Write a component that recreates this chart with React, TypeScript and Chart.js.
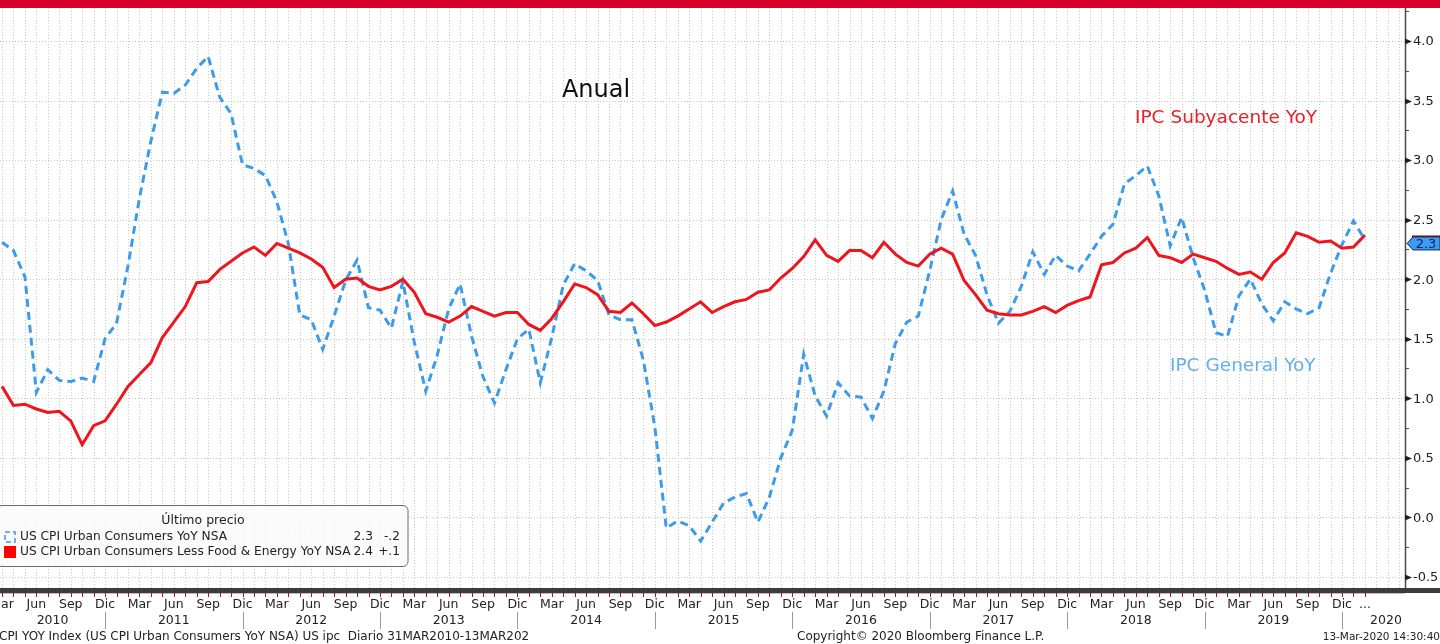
import React, { useEffect, useRef } from 'react';
import { Chart, registerables } from 'chart.js';

Chart.register(...registerables);

// ---- data ----
const START_YEAR = 2010;
const START_MONTH = 2; // March (0-based)
const MONTH_NAMES = ['Ene', 'Feb', 'Mar', 'Abr', 'May', 'Jun', 'Jul', 'Ago', 'Sep', 'Oct', 'Nov', 'Dic'];
const QUARTER_MONTHS = [2, 5, 8, 11];
const YEARS = [2010, 2011, 2012, 2013, 2014, 2015, 2016, 2017, 2018, 2019, 2020];
const Y_TICKS = [-0.5, 0, 0.5, 1.0, 1.5, 2.0, 2.5, 3.0, 3.5, 4.0];

// US CPI Urban Consumers YoY NSA, Mar 2010 .. Feb 2020
const CPI_YOY = [
  2.31, 2.24, 2.02, 1.05, 1.24, 1.15, 1.14, 1.17, 1.14, 1.50,
  1.63, 2.11, 2.68, 3.16, 3.57, 3.56, 3.63, 3.77, 3.87, 3.53, 3.39, 2.96,
  2.93, 2.87, 2.65, 2.30, 1.70, 1.66, 1.41, 1.69, 1.99, 2.16, 1.76, 1.74,
  1.59, 1.98, 1.47, 1.06, 1.36, 1.75, 1.96, 1.52, 1.18, 0.96, 1.24, 1.50,
  1.58, 1.13, 1.51, 1.95, 2.13, 2.07, 1.99, 1.70, 1.66, 1.66, 1.32, 0.76,
  -0.09, -0.03, -0.07, -0.20, -0.04, 0.12, 0.17, 0.20, -0.04, 0.17, 0.50, 0.73,
  1.37, 1.02, 0.85, 1.13, 1.02, 1.01, 0.83, 1.06, 1.46, 1.64, 1.69, 2.07,
  2.50, 2.74, 2.38, 2.20, 1.87, 1.63, 1.73, 1.94, 2.23, 2.04, 2.20, 2.11,
  2.07, 2.21, 2.36, 2.46, 2.80, 2.87, 2.95, 2.70, 2.28, 2.52, 2.18, 1.91,
  1.55, 1.52, 1.86, 2.00, 1.79, 1.65, 1.81, 1.75, 1.71, 1.76, 2.05, 2.29,
  2.49, 2.33,
];

// US CPI Urban Consumers Less Food & Energy YoY NSA, Mar 2010 .. Feb 2020
const CORE_YOY = [
  1.10, 0.94, 0.95, 0.91, 0.88, 0.89, 0.81, 0.61, 0.77, 0.81,
  0.95, 1.10, 1.20, 1.30, 1.51, 1.64, 1.77, 1.97, 1.98, 2.08, 2.15, 2.22,
  2.27, 2.20, 2.30, 2.26, 2.22, 2.17, 2.10, 1.93, 2.00, 2.01, 1.94, 1.91,
  1.94, 2.00, 1.89, 1.71, 1.68, 1.64, 1.69, 1.77, 1.73, 1.69, 1.72, 1.72,
  1.62, 1.57, 1.67, 1.81, 1.96, 1.93, 1.87, 1.73, 1.72, 1.80, 1.71, 1.61,
  1.64, 1.69, 1.75, 1.81, 1.72, 1.77, 1.81, 1.83, 1.89, 1.91, 2.01, 2.09,
  2.19, 2.33, 2.20, 2.15, 2.24, 2.24, 2.18, 2.31, 2.21, 2.14, 2.11, 2.21,
  2.26, 2.21, 1.99, 1.87, 1.74, 1.71, 1.70, 1.70, 1.73, 1.77, 1.72, 1.78,
  1.82, 1.85, 2.12, 2.14, 2.22, 2.26, 2.35, 2.20, 2.18, 2.14, 2.21, 2.18,
  2.15, 2.09, 2.04, 2.06, 2.00, 2.14, 2.22, 2.39, 2.36, 2.31, 2.32, 2.26,
  2.27, 2.37,
];

const SERIES_NAMES = ['US CPI Urban Consumers YoY NSA', 'US CPI Urban Consumers Less Food & Energy YoY NSA'];
const LEGEND_LAST = ['2.3', '2.4'];
const LEGEND_CHANGE = ['-.2', '+.1'];
const TAG_VALUE = 2.3;

const X_MIN = -0.175;
const X_MAX = 122.5;
const Y_MIN = -0.61;
const Y_MAX = 4.277;

const FONT = '"DejaVu Sans", "Liberation Sans", sans-serif';
const BLUE = '#3d9be9';
const RED = '#f0141c';

const bbgPlugin = {
  id: 'bbg',
  beforeDraw(chart: any) {
    const { ctx, width, height } = chart;
    ctx.save();
    ctx.fillStyle = '#ffffff';
    ctx.fillRect(0, 0, width, height);
    ctx.restore();
  },
  beforeDatasetsDraw(chart: any) {
    const { ctx, chartArea: a, scales } = chart;
    const x = scales.x;
    const y = scales.y;
    ctx.save();
    ctx.strokeStyle = '#c8c8c8';
    ctx.lineWidth = 1;
    ctx.setLineDash([1, 2]);
    for (let i = Math.ceil(X_MIN); i <= X_MAX; i++) {
      const px = Math.round(x.getPixelForValue(i)) + 0.5;
      ctx.beginPath();
      ctx.moveTo(px, a.top);
      ctx.lineTo(px, a.bottom);
      ctx.stroke();
    }
    for (const v of Y_TICKS) {
      const py = Math.round(y.getPixelForValue(v)) + 0.5;
      ctx.beginPath();
      ctx.moveTo(a.left, py);
      ctx.lineTo(a.right, py);
      ctx.stroke();
    }
    ctx.restore();
  },
  afterDraw(chart: any) {
    const { ctx, chartArea: a, scales, width } = chart;
    const x = scales.x;
    const y = scales.y;
    ctx.save();

    // top red band
    ctx.fillStyle = '#d7002b';
    ctx.fillRect(0, 0, width, 8);

    // title and annotations
    ctx.textBaseline = 'alphabetic';
    ctx.fillStyle = '#111';
    ctx.font = `24px ${FONT}`;
    ctx.textAlign = 'center';
    ctx.fillText('Anual', 596, 97);
    ctx.textAlign = 'left';
    ctx.textBaseline = 'middle';
    ctx.font = `18.5px ${FONT}`;
    ctx.fillStyle = '#e8202a';
    ctx.fillText('IPC Subyacente YoY', 1135, 118);
    ctx.fillStyle = '#62b0ef';
    ctx.fillText('IPC General YoY', 1170, 366);

    // legend box
    ctx.beginPath();
    ctx.roundRect(-3, 505.5, 411, 61, 5);
    ctx.fillStyle = 'rgba(250,250,250,0.85)';
    ctx.fill();
    ctx.strokeStyle = '#6a6a6a';
    ctx.lineWidth = 1;
    ctx.stroke();
    ctx.fillStyle = '#222';
    ctx.font = `12.5px ${FONT}`;
    ctx.textAlign = 'center';
    ctx.fillText('Último precio', 203, 521);
    ctx.font = `12.2px ${FONT}`;
    const rows = [537, 552];
    rows.forEach((ry, i) => {
      ctx.fillStyle = '#222';
      ctx.textAlign = 'left';
      ctx.fillText(SERIES_NAMES[i], 20, ry);
      ctx.textAlign = 'right';
      ctx.fillText(LEGEND_LAST[i], 373, ry);
      ctx.fillText(LEGEND_CHANGE[i], 400, ry);
    });
    ctx.setLineDash([5, 3]);
    ctx.strokeStyle = BLUE;
    ctx.lineWidth = 1.5;
    ctx.strokeRect(5, 532, 10, 10);
    ctx.setLineDash([]);
    ctx.fillStyle = '#ff0000';
    ctx.fillRect(4, 546, 12, 12);

    // right axis
    const axX = a.right;
    ctx.strokeStyle = '#4a4a4a';
    ctx.lineWidth = 1.5;
    ctx.beginPath();
    ctx.moveTo(axX + 0.5, a.top);
    ctx.lineTo(axX + 0.5, 592);
    ctx.stroke();
    ctx.lineWidth = 1;
    for (let v = -0.5; v <= Y_MAX; v += 0.25) {
      const py = Math.round(y.getPixelForValue(v)) + 0.5;
      if (Math.abs((v * 2) - Math.round(v * 2)) < 1e-6) {
        ctx.fillStyle = '#222';
        ctx.beginPath();
        ctx.moveTo(axX, py - 3);
        ctx.lineTo(axX + 7, py);
        ctx.lineTo(axX, py + 3);
        ctx.closePath();
        ctx.fill();
      } else {
        ctx.beginPath();
        ctx.moveTo(axX, py);
        ctx.lineTo(axX + 4, py);
        ctx.stroke();
      }
    }
    ctx.fillStyle = '#222';
    ctx.font = `13px ${FONT}`;
    ctx.textAlign = 'left';
    ctx.textBaseline = 'middle';
    for (const v of Y_TICKS) {
      ctx.fillText(v.toFixed(1), axX + 8, y.getPixelForValue(v) + 1);
    }

    // last value tags
    const ty = y.getPixelForValue(TAG_VALUE);
    ctx.strokeStyle = '#8a0f16';
    ctx.lineWidth = 2;
    ctx.beginPath();
    ctx.moveTo(axX + 7, ty - 7);
    ctx.lineTo(width, ty - 7);
    ctx.stroke();
    ctx.beginPath();
    ctx.moveTo(axX + 2, ty);
    ctx.lineTo(axX + 8, ty - 6.5);
    ctx.lineTo(width, ty - 6.5);
    ctx.lineTo(width, ty + 6.5);
    ctx.lineTo(axX + 8, ty + 6.5);
    ctx.closePath();
    ctx.fillStyle = '#3a9cf2';
    ctx.fill();
    ctx.strokeStyle = '#1b2a55';
    ctx.lineWidth = 1;
    ctx.stroke();
    ctx.fillStyle = '#10205a';
    ctx.font = `13px ${FONT}`;
    ctx.textAlign = 'center';
    ctx.fillText(TAG_VALUE.toFixed(1), axX + 21, ty + 1);

    // bottom axis band
    ctx.fillStyle = '#3c3c3c';
    ctx.fillRect(0, 588, width, 5);
    ctx.fillStyle = '#bdbdbd';
    ctx.fillRect(0, 593, axX, 1);
    ctx.strokeStyle = '#b3121b';
    ctx.lineWidth = 1;
    const nMonths = CPI_YOY.length;
    for (let i = 0; i < nMonths; i++) {
      const px = Math.round(x.getPixelForValue(i)) + 0.5;
      ctx.beginPath();
      ctx.moveTo(px, 593);
      ctx.lineTo(px, 597);
      ctx.stroke();
    }

    // month labels
    ctx.fillStyle = '#222';
    ctx.font = `12.5px ${FONT}`;
    ctx.textAlign = 'center';
    ctx.textBaseline = 'middle';
    const decIdx: number[] = [];
    for (let i = 0; i < nMonths; i++) {
      const m = (START_MONTH + i) % 12;
      if (m === 11) decIdx.push(i);
      if (QUARTER_MONTHS.includes(m) && i < nMonths - 2) {
        ctx.fillText(MONTH_NAMES[m], x.getPixelForValue(i), 605);
      }
    }
    ctx.fillText('...', x.getPixelForValue(nMonths - 1), 605);

    // year separators and labels
    ctx.strokeStyle = '#9a9a9a';
    ctx.lineWidth = 1;
    decIdx.forEach((i) => {
      const px = Math.round(x.getPixelForValue(i)) + 0.5;
      ctx.beginPath();
      ctx.moveTo(px, 612);
      ctx.lineTo(px, 629);
      ctx.stroke();
    });
    const bounds = [0, ...decIdx.map((i) => x.getPixelForValue(i)), 1430];
    YEARS.forEach((yr, k) => {
      const cx = (bounds[k] + bounds[k + 1]) / 2;
      ctx.fillText(String(yr), cx, 621);
    });

    // footer
    ctx.font = `12px ${FONT}`;
    ctx.textAlign = 'left';
    ctx.fillText('CPI YOY Index (US CPI Urban Consumers YoY NSA) US ipc  Diario 31MAR2010-13MAR202', -1, 637);
    ctx.fillText('Copyright\u00A9 2020 Bloomberg Finance L.P.', 797, 637);
    ctx.textAlign = 'right';
    ctx.font = `10.5px ${FONT}`;
    ctx.fillText('13-Mar-2020 14:30:40', 1440, 637);

    ctx.restore();
  },
};

export default function App() {
  const ref = useRef<HTMLCanvasElement | null>(null);

  useEffect(() => {
    document.body.style.margin = '0';
    const canvas = ref.current;
    if (!canvas) return;
    const chart = new Chart(canvas, {
      type: 'line',
      data: {
        datasets: [
          {
            label: SERIES_NAMES[0],
            data: CPI_YOY.map((v, i) => ({ x: i, y: v })),
            borderColor: BLUE,
            borderWidth: 3,
            borderDash: [8, 5],
            pointRadius: 0,
            fill: false,
            tension: 0,
            order: 1,
          },
          {
            label: SERIES_NAMES[1],
            data: CORE_YOY.map((v, i) => ({ x: i, y: v })),
            borderColor: RED,
            borderWidth: 3,
            pointRadius: 0,
            fill: false,
            tension: 0,
            order: 0,
          },
        ],
      },
      options: {
        animation: false,
        responsive: false,
        devicePixelRatio: 1,
        layout: { padding: { top: 8, left: 0, right: 0, bottom: 0 } },
        plugins: { legend: { display: false }, tooltip: { enabled: false } },
        scales: {
          x: {
            type: 'linear',
            min: X_MIN,
            max: X_MAX,
            grid: { display: false },
            border: { display: false },
            ticks: { display: false },
            afterFit: (s: any) => { s.height = 54; },
          },
          y: {
            position: 'right',
            min: Y_MIN,
            max: Y_MAX,
            grid: { display: false },
            border: { display: false },
            ticks: { display: false },
            afterFit: (s: any) => { s.width = 35; },
          },
        },
      },
      plugins: [bbgPlugin],
    } as any);
    return () => chart.destroy();
  }, []);

  return <canvas ref={ref} width={1440} height={644} style={{ display: 'block', width: 1440, height: 644 }} />;
}
